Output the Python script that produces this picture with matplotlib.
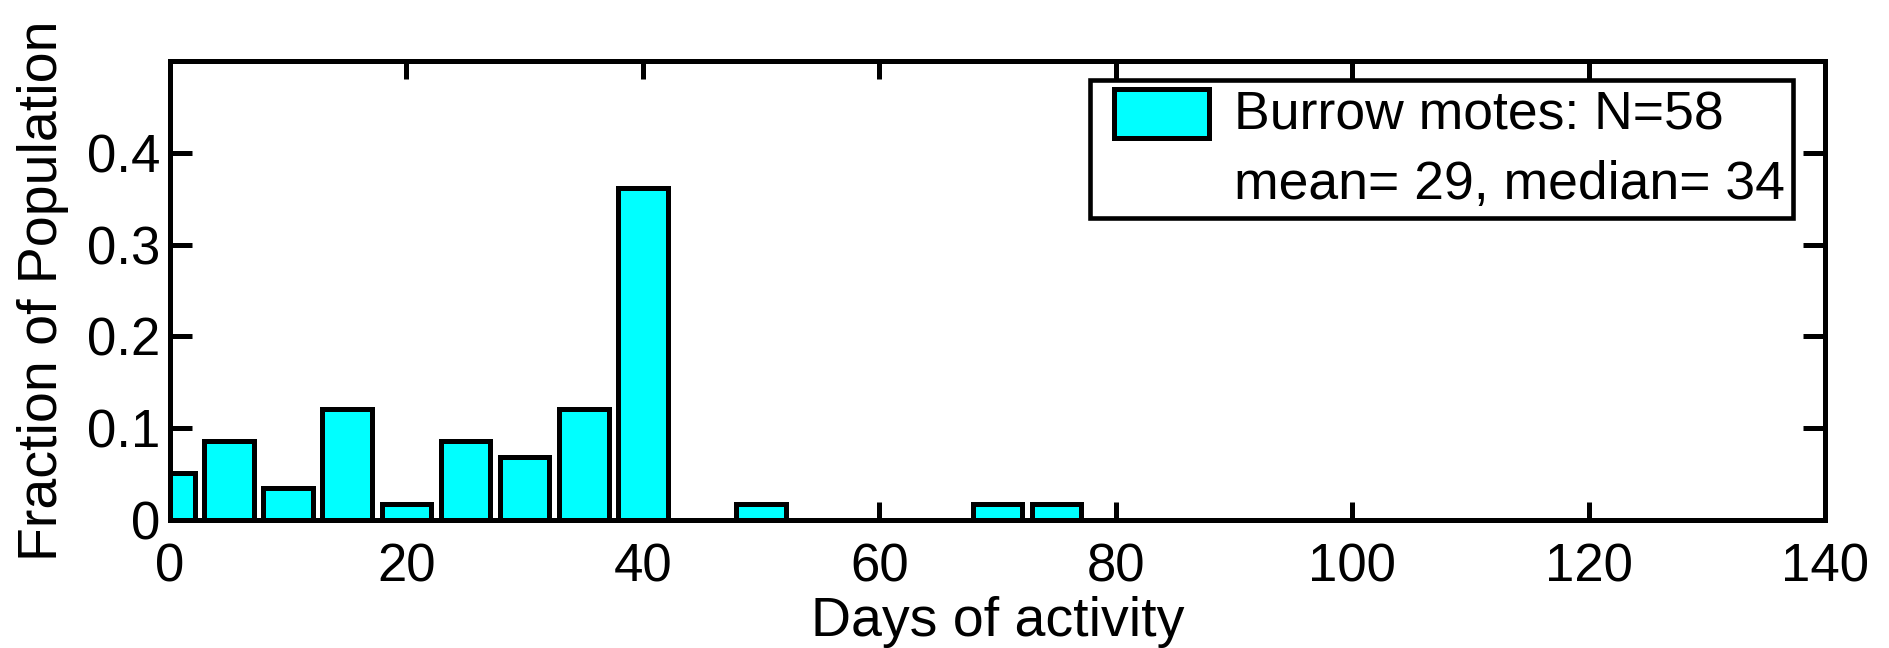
import matplotlib
matplotlib.use("Agg")
import matplotlib.pyplot as plt
import matplotlib.patches as mpatches
from matplotlib.legend_handler import HandlerPatch

# histogram of days of activity (bin centres) and fraction of motes in each bin
days = [0, 5, 10, 15, 20, 25, 30, 35, 40, 50, 70, 75]
fraction = [0.0517, 0.0862, 0.0345, 0.1207, 0.0172, 0.0862, 0.0690,
            0.1207, 0.3621, 0.0172, 0.0172, 0.0172]

x_ticks = [0, 20, 40, 60, 80, 100, 120, 140]
y_ticks = [0, 0.1, 0.2, 0.3, 0.4]
y_tick_labels = ["0", "0.1", "0.2", "0.3", "0.4"]

legend_lines = ["Burrow motes: N=58", "mean= 29, median= 34"]

plt.rcParams['font.family'] = ['Liberation Sans', 'DejaVu Sans']

W, H = 1890, 648
fig = plt.figure(figsize=(W / 100, H / 100), dpi=100)
ax = fig.add_axes([170 / W, 1 - 520 / H, (1825 - 170) / W, (520 - 61) / H])

# bars sit above the tick marks, spines above the bars
ax.bar(days, fraction, width=4.2, color='#00FFFF', edgecolor='black',
       linewidth=3.6, zorder=3)

ax.set_xlim(0, 140)
ax.set_ylim(0, 0.5)
ax.set_xticks(x_ticks)
ax.set_xticklabels([str(t) for t in x_ticks])
ax.set_yticks(y_ticks)
ax.set_yticklabels(y_tick_labels)

for s in ax.spines.values():
    s.set_linewidth(3.6)
    s.set_zorder(5)

ax.tick_params(axis='both', direction='in', top=True, right=True,
               width=3.6, labelsize=38)
ax.tick_params(axis='x', length=13, pad=16)
ax.tick_params(axis='y', length=16, pad=7)

ax.set_xlabel("Days of activity", fontsize=40, labelpad=3)
ax.set_ylabel("Fraction of Population", fontsize=40, labelpad=13)

# legend: cyan box next to the first line, second line has no marker
fs = 38.5


def box_patch(legend, orig_handle, xdescent, ydescent, width, height, fontsize):
    return mpatches.Rectangle((-xdescent + 0.30 * fontsize, -0.17 * fontsize),
                              1.78 * fontsize, 0.92 * fontsize)


h1 = mpatches.Rectangle((0, 0), 1, 1, facecolor='#00FFFF', edgecolor='black',
                        linewidth=3.6)
h2 = mpatches.Rectangle((0, 0), 1, 1, facecolor='none', edgecolor='none')

leg = ax.legend([h1, h2], legend_lines, loc='upper left',
                bbox_to_anchor=(1090 / W, 1 - 80 / H),
                bbox_transform=fig.transFigure, borderaxespad=0,
                fontsize=fs, handlelength=2.08, handleheight=0.937,
                handletextpad=0.47, borderpad=0.15, labelspacing=0.32,
                fancybox=False, framealpha=1,
                handler_map={h1: HandlerPatch(patch_func=box_patch)})
leg.get_frame().set_edgecolor('black')
leg.get_frame().set_linewidth(3.3)
leg.set_zorder(6)

fig.savefig("out.png", dpi=100)
